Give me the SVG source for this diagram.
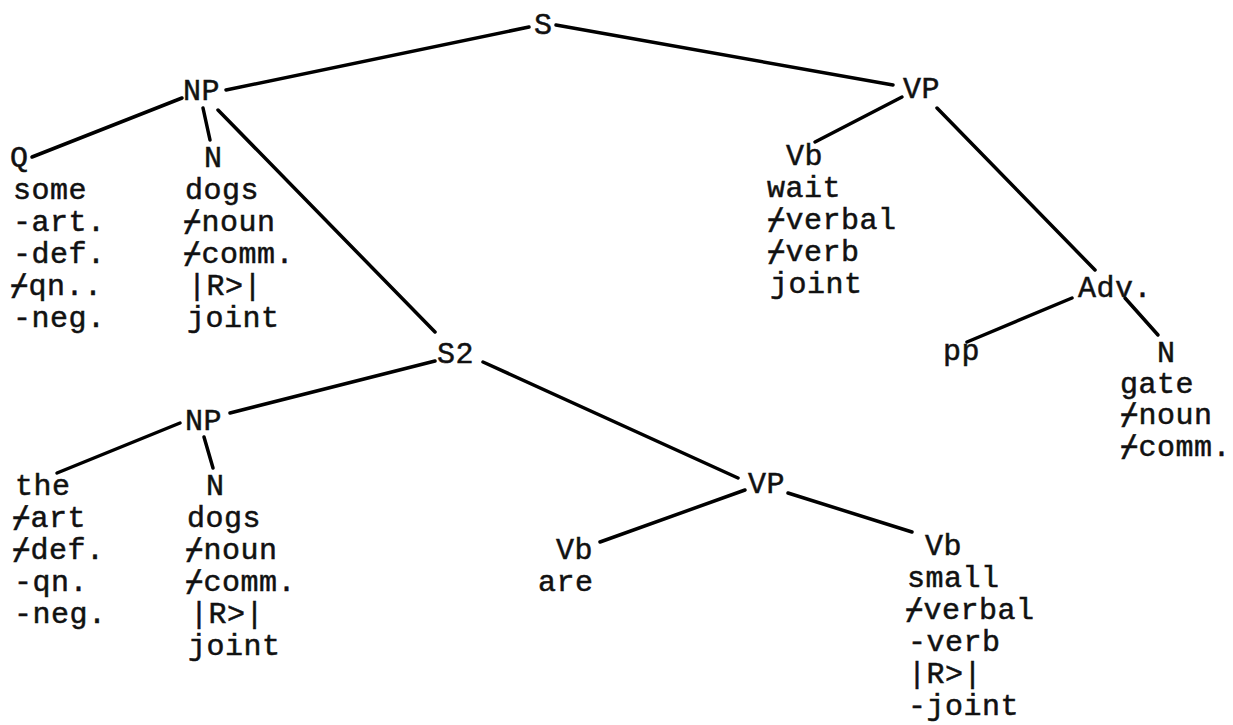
<svg xmlns="http://www.w3.org/2000/svg" width="1233" height="725" viewBox="0 0 1233 725">
<style>
.t{font-family:"Liberation Mono","DejaVu Sans Mono",monospace;font-size:30px;letter-spacing:0.5px;fill:#111;stroke:#111;stroke-width:0.5px}
.e{stroke:#000;stroke-width:3.5;stroke-linecap:round;fill:none}
</style>
<rect width="1233" height="725" fill="#fff"/>
<g id="connectors">
<line class="e" x1="529" y1="27" x2="226" y2="90"/>
<line class="e" x1="556" y1="25" x2="893" y2="85"/>
<line class="e" x1="182" y1="98" x2="32" y2="157"/>
<line class="e" x1="203" y1="108" x2="210" y2="140"/>
<line class="e" x1="218" y1="110" x2="435" y2="332"/>
<line class="e" x1="902" y1="97" x2="815" y2="142"/>
<line class="e" x1="937" y1="108" x2="1095" y2="270"/>
<line class="e" x1="1072" y1="298" x2="967" y2="342"/>
<line class="e" x1="1125" y1="298" x2="1158" y2="335"/>
<line class="e" x1="435" y1="361" x2="230" y2="413"/>
<line class="e" x1="483" y1="362" x2="738" y2="478"/>
<line class="e" x1="180" y1="423" x2="57" y2="473"/>
<line class="e" x1="204" y1="437" x2="213" y2="468"/>
<line class="e" x1="745" y1="490" x2="600" y2="542"/>
<line class="e" x1="788" y1="493" x2="912" y2="532"/>
</g>
<g id="S"><text class="t" x="534" y="34">S</text></g>
<g id="NP1"><text class="t" x="183" y="100">NP</text></g>
<g id="VP1"><text class="t" x="903" y="98">VP</text></g>
<g id="Q"><text class="t" x="10" y="167">Q<tspan x="13" dy="32">some</tspan><tspan x="13" dy="32">-art.</tspan><tspan x="13" dy="32">-def.</tspan><tspan x="10" dy="32">⌿qn..</tspan><tspan x="13" dy="32">-neg.</tspan></text></g>
<g id="N1"><text class="t" x="204" y="167">N<tspan x="185" dy="32">dogs</tspan><tspan x="183" dy="32">⌿noun</tspan><tspan x="183" dy="32">⌿comm.</tspan><tspan x="188" dy="32">|R&gt;|</tspan><tspan x="187" dy="32">joint</tspan></text></g>
<g id="Vb1"><text class="t" x="786" y="165">Vb<tspan x="767" dy="32">wait</tspan><tspan x="767" dy="32">⌿verbal</tspan><tspan x="767" dy="32">⌿verb</tspan><tspan x="770" dy="32">joint</tspan></text></g>
<g id="Adv"><text class="t" x="1078" y="297">Adv.</text></g>
<g id="pp"><text class="t" x="943" y="360">pp</text></g>
<g id="N3"><text class="t" x="1157" y="362">N<tspan x="1120" dy="31">gate</tspan><tspan x="1120" dy="31">⌿noun</tspan><tspan x="1120" dy="32">⌿comm.</tspan></text></g>
<g id="S2"><text class="t" x="437" y="363">S2</text></g>
<g id="NP2"><text class="t" x="185" y="430">NP</text></g>
<g id="the"><text class="t" x="15" y="495">the<tspan x="12" dy="32">⌿art</tspan><tspan x="12" dy="32">⌿def.</tspan><tspan x="14" dy="32">-qn.</tspan><tspan x="14" dy="32">-neg.</tspan></text></g>
<g id="N2"><text class="t" x="206" y="495">N<tspan x="187" dy="32">dogs</tspan><tspan x="185" dy="32">⌿noun</tspan><tspan x="185" dy="32">⌿comm.</tspan><tspan x="190" dy="32">|R&gt;|</tspan><tspan x="188" dy="32">joint</tspan></text></g>
<g id="VP2"><text class="t" x="748" y="493">VP</text></g>
<g id="Vb2"><text class="t" x="556" y="559">Vb<tspan x="538" dy="32">are</tspan></text></g>
<g id="Vb3"><text class="t" x="925" y="555">Vb<tspan x="907" dy="32">small</tspan><tspan x="905" dy="32">⌿verbal</tspan><tspan x="908" dy="32">-verb</tspan><tspan x="908" dy="32">|R&gt;|</tspan><tspan x="908" dy="32">-joint</tspan></text></g>
</svg>
